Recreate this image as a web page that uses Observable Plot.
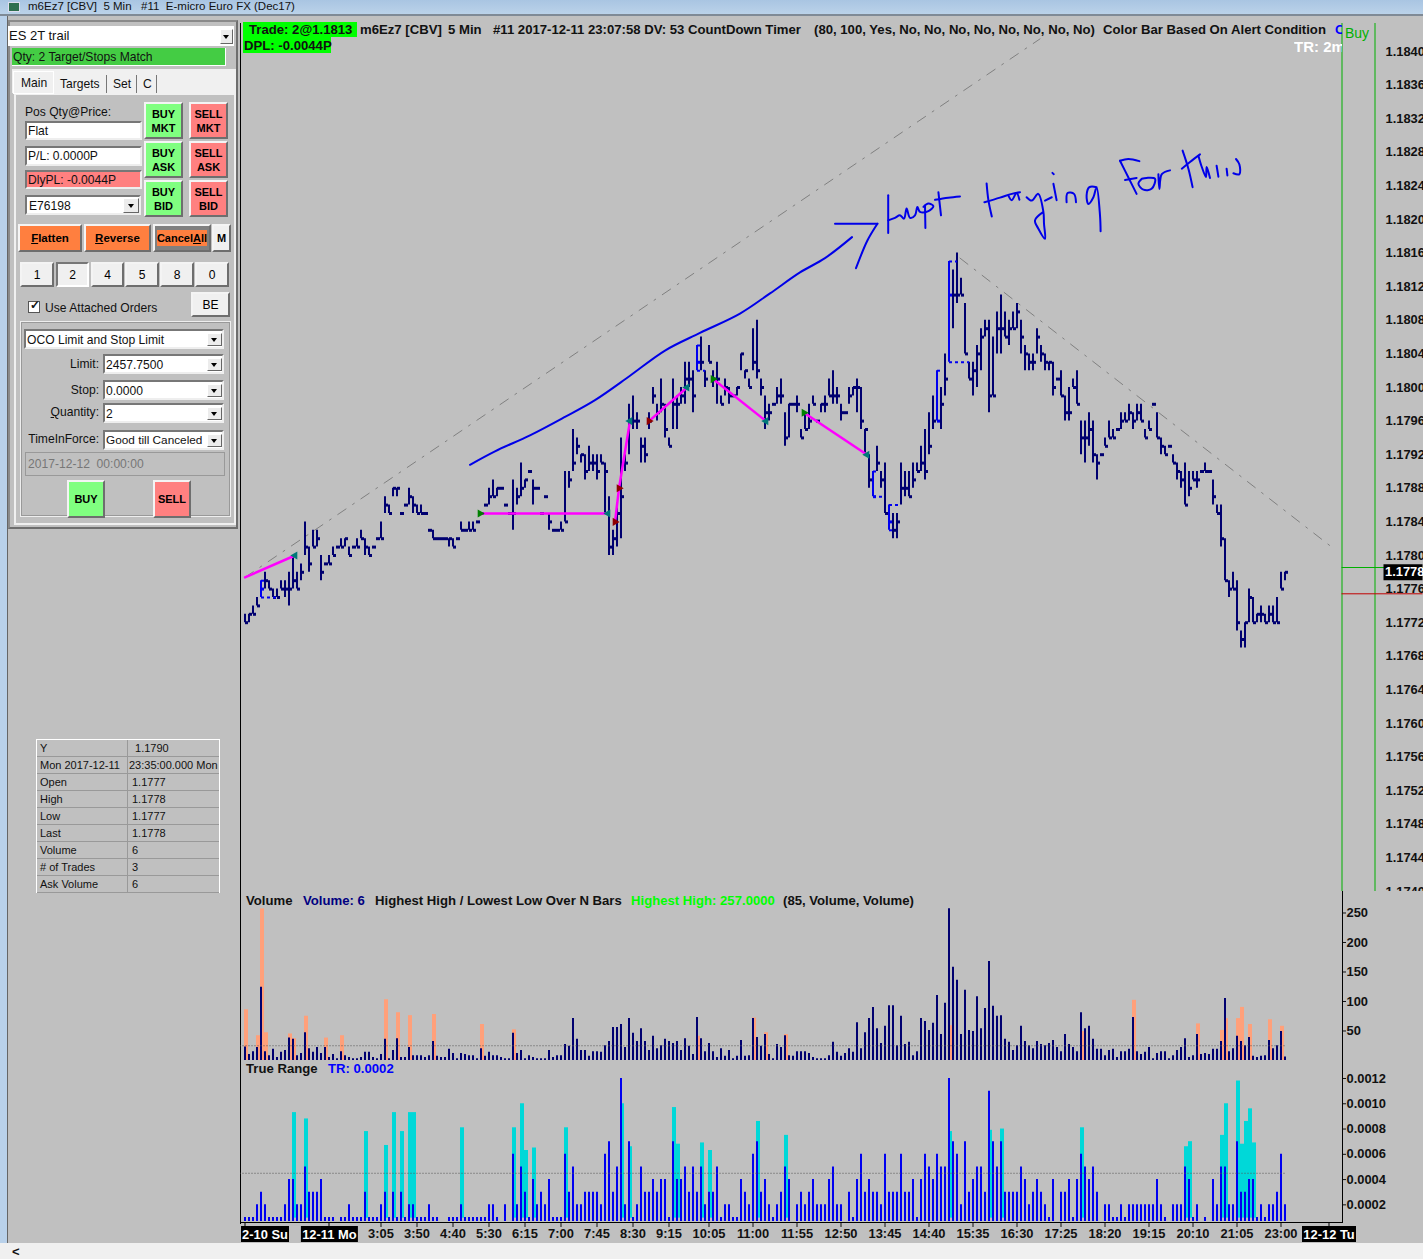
<!DOCTYPE html>
<html><head><meta charset="utf-8">
<script src="https://cdn.jsdelivr.net/npm/d3@7"></script>
<script src="https://cdn.jsdelivr.net/npm/@observablehq/plot@0.6"></script>
<style>
html,body{margin:0;padding:0;background:#c0c0c0;width:1423px;height:1259px;overflow:hidden;font-family:"Liberation Sans",Arial,sans-serif}
.abs{position:absolute;white-space:pre;box-sizing:border-box}
.panel{position:absolute;left:240px;line-height:0}
.hd{position:absolute;white-space:pre;font:bold 13.15px "Liberation Sans",Arial,sans-serif;color:#111;line-height:15px}
.ui{font:12.1px "Liberation Sans",Arial,sans-serif;color:#111;line-height:1}
.raised{border:2px solid;border-color:#f4f4f4 #6e6e6e #6e6e6e #f4f4f4}
.sunk{border:2px solid;border-color:#777 #eee #eee #777;background:#fff}
.btn{display:flex;align-items:center;justify-content:center;text-align:center;font:bold 11px/14px "Liberation Sans",Arial,sans-serif;white-space:pre}
.arrow{position:absolute;background:#ececec;border:1px solid;border-color:#fff #666 #666 #fff;box-sizing:border-box}
.arrow::after{content:"";position:absolute;left:50%;top:50%;margin:-1.5px 0 0 -3.5px;border:3.5px solid transparent;border-top:4px solid #000;border-bottom:0}
</style></head><body>
<div id="root"></div>
<script>
// ---- price bars, pips above 1.0000 (1773 = 1.1773) ----
const highs=[1773,1773,1774,1775,1777,1778,1777,1776,1776,1777,
1777,1778,1780,1778,1779,1784,1781,1783,1783,1780,
1779,1780,1781,1781,1782,1782,1781,1781,1782,1783,
1782,1781,1781,1782,1784,1787,1786,1788,1788,1785,
1786,1788,1787,1786,1786,1785,1783,1783,1782,1782,
1782,1782,1782,1782,1784,1783,1784,1784,1784,1785,
1786,1788,1789,1788,1788,1786,1785,1789,1788,1791,
1789,1790,1789,1788,1785,1787,1785,1783,1783,1784,
1790,1790,1795,1794,1792,1792,1793,1792,1792,1792,
1791,1787,1783,1786,1794,1792,1798,1799,1797,1794,
1794,1797,1800,1798,1801,1798,1794,1801,1799,1800,
1803,1803,1802,1805,1806,1802,1805,1802,1803,1799,
1801,1800,1799,1800,1804,1802,1801,1807,1808,1801,
1799,1798,1798,1800,1801,1797,1798,1798,1799,1795,
1797,1798,1799,1796,1798,1799,1801,1802,1800,1798,
1797,1800,1800,1801,1800,1795,1792,1790,1793,1790,
1791,1786,1785,1785,1791,1790,1790,1791,1791,1793,
1795,1797,1799,1802,1800,1804,1815,1814,1816,1813,
1810,1803,1803,1805,1807,1808,1808,1806,1809,1811,
1809,1808,1809,1810,1808,1805,1804,1804,1807,1805,
1804,1803,1803,1801,1802,1799,1800,1801,1802,1796,
1796,1797,1796,1792,1792,1794,1796,1795,1795,1797,
1797,1798,1797,1798,1798,1795,1796,1798,1797,1794,
1793,1793,1792,1791,1790,1791,1790,1790,1790,1790,
1791,1790,1789,1786,1786,1782,1777,1778,1777,1771,
1772,1776,1775,1773,1774,1773,1774,1774,1775,1778,1778];
const lows=[1772,1772,1773,1774,1775,1776,1776,1775,1775,1776,
1775,1774,1776,1776,1777,1780,1778,1781,1781,1777,
1779,1779,1780,1781,1781,1781,1780,1781,1781,1782,
1780,1780,1781,1782,1782,1785,1785,1787,1787,1785,
1786,1786,1785,1785,1785,1785,1783,1782,1782,1782,
1782,1781,1781,1782,1783,1783,1783,1783,1784,1785,
1786,1786,1787,1787,1788,1786,1785,1783,1786,1787,
1788,1790,1786,1788,1785,1787,1783,1783,1783,1783,
1784,1788,1790,1792,1791,1789,1790,1790,1789,1791,
1785,1780,1780,1781,1782,1790,1792,1795,1795,1791,
1791,1795,1798,1796,1797,1794,1793,1795,1795,1798,
1798,1800,1797,1802,1802,1800,1803,1800,1798,1798,
1799,1798,1799,1799,1802,1801,1800,1802,1801,1799,
1795,1796,1798,1798,1798,1793,1794,1798,1797,1794,
1795,1795,1798,1796,1797,1797,1799,1798,1798,1796,
1797,1798,1799,1797,1795,1792,1788,1787,1790,1788,
1785,1783,1782,1782,1786,1787,1787,1788,1790,1790,
1789,1792,1795,1796,1795,1799,1803,1807,1810,1811,
1804,1801,1799,1800,1802,1806,1797,1799,1804,1804,
1806,1805,1807,1807,1804,1802,1802,1802,1804,1803,
1802,1802,1799,1801,1799,1796,1796,1800,1798,1792,
1791,1793,1791,1789,1792,1793,1794,1794,1795,1795,
1796,1796,1795,1796,1796,1794,1795,1798,1794,1792,
1792,1793,1791,1789,1788,1786,1787,1789,1788,1790,
1790,1790,1786,1785,1781,1777,1775,1776,1771,1769,
1769,1772,1772,1772,1772,1772,1772,1772,1772,1776,1777];
const closes=[1772,1773,1773,1774,1776,1777,1776,1775,1775,1776,
1776,1776,1777,1776,1778,1781,1779,1781,1782,1778,
1779,1779,1780,1781,1781,1782,1780,1781,1781,1782,
1781,1780,1781,1782,1782,1786,1785,1788,1788,1785,
1786,1787,1786,1785,1785,1785,1783,1782,1782,1782,
1782,1782,1781,1782,1783,1783,1783,1783,1784,1785,
1786,1787,1787,1788,1788,1786,1785,1785,1787,1788,
1789,1790,1788,1788,1785,1787,1784,1783,1783,1783,
1784,1789,1791,1793,1792,1790,1791,1791,1790,1791,
1790,1781,1782,1785,1787,1791,1796,1796,1796,1793,
1792,1796,1799,1797,1798,1795,1793,1798,1798,1799,
1801,1801,1799,1803,1803,1801,1803,1801,1801,1798,
1800,1799,1799,1800,1804,1802,1800,1803,1802,1800,
1797,1797,1798,1799,1799,1794,1798,1798,1798,1794,
1795,1796,1798,1796,1798,1798,1799,1799,1799,1797,
1797,1799,1800,1800,1796,1795,1789,1787,1791,1789,
1785,1784,1783,1784,1788,1788,1787,1789,1790,1791,
1790,1793,1796,1796,1798,1801,1811,1811,1811,1811,
1804,1801,1802,1804,1806,1807,1799,1799,1807,1807,
1806,1807,1807,1809,1806,1804,1803,1803,1806,1804,
1803,1803,1800,1801,1799,1797,1797,1800,1798,1794,
1794,1795,1792,1791,1792,1793,1794,1794,1795,1796,
1796,1797,1796,1797,1796,1794,1795,1798,1794,1793,
1792,1793,1791,1790,1789,1786,1788,1789,1789,1790,
1790,1790,1787,1785,1782,1777,1776,1776,1772,1770,
1772,1775,1772,1773,1773,1772,1773,1772,1772,1776,1778];
const blueBars=[4,113,157,161,173,176];
// dotted swing connectors: from bar, to bar, price
const swingFrom=[4,4,113,113,157,157,161,161,173,173,176,176];
const swingTo=[5,8,114,115,158,160,164,162,174,174,178,181];
const swingPrice=[1777,1775,1805,1802,1790,1787,1786,1783,1802,1796,1815,1803];
// ---- volume ----
const volume=[23,10,15,22,124,15,8,19,5,14,17,38,36,8,12,47,20,14,22,12,22,5,10,3,15,8,5,3,3,5,14,14,5,3,10,36,3,17,37,5,5,22,8,8,8,5,8,32,7,5,5,19,12,3,12,10,8,8,3,20,7,14,8,8,5,3,3,46,12,17,3,8,5,3,3,3,17,5,8,8,27,24,71,36,17,17,7,15,15,14,25,32,56,56,61,22,71,46,32,
54,32,17,41,20,25,36,32,29,32,17,37,24,10,73,37,15,29,15,5,20,7,17,3,7,34,7,8,71,39,24,44,10,3,27,22,42,8,7,15,15,15,12,5,3,3,3,8,31,14,7,12,20,14,64,20,47,71,90,54,29,58,93,93,25,75,27,31,8,15,71,66,51,63,110,44,97,257,158,136,44,119,51,49,108,54,88,168,92,75,76,36,31,17,25,58,32,25,20,32,
27,25,29,34,22,15,44,27,22,15,81,54,58,36,19,19,8,17,19,5,15,15,19,73,15,10,14,22,3,12,15,15,3,8,17,22,37,5,8,44,10,12,10,19,19,32,105,15,20,41,32,25,39,7,5,7,8,34,20,25,49,6];
const salmonBars=[0,3,4,5,11,12,15,20,24,35,38,41,47,59,67,113,127,130,135,176,209,222,238,244,245,248,249,251,256,259];
const salmonValues=[86,42,257,47,45,37,75,38,42,103,81,76,78,61,52,41,72,47,44,59,49,102,62,51,71,71,90,61,69,58];
const volumeAverage=25;
// ---- true range, in 1/10000 ----
const trueRange=[1,1,1,2,3,2,1,1,1,1,2,4,4,2,2,5,3,3,3,4,1,1,1,0,1,1,2,1,1,1,3,1,1,1,2,3,1,3,1,3,1,2,2,1,1,1,2,1,1,0,0,1,1,1,2,1,1,1,1,1,1,2,2,1,0,2,0,6,2,5,3,1,4,2,3,2,4,1,1,1,6,3,5,2,2,3,3,3,3,2,6,7,3,5,12,2,7,1,2,
5,3,3,4,3,4,4,1,7,4,4,5,3,5,3,5,2,3,3,5,1,2,2,1,1,4,3,2,6,7,3,4,2,1,2,3,5,4,0,2,3,2,3,4,2,2,2,4,5,2,2,0,3,1,4,6,3,4,3,3,2,6,3,3,3,6,3,3,4,1,4,6,5,4,6,5,5,12,7,6,2,7,3,4,5,5,3,11,7,5,7,3,3,3,3,5,4,2,3,4,
3,2,1,4,0,3,3,4,1,4,6,5,4,5,3,0,2,2,1,1,2,1,2,2,2,2,2,2,2,4,2,1,0,2,2,2,5,4,1,2,0,1,0,4,2,5,5,2,2,7,3,3,4,4,1,2,1,2,2,3,6,2];
const cyanBars=[12,15,30,35,37,39,41,42,54,67,69,70,72,80,94,96,107,108,114,116,128,135,176,186,189,209,235,236,244,245,248,249,250,251,252];
const cyanValues=[9.3,8.8,7.8,6.7,9.3,7.8,9.3,9.3,8.1,8.1,10,6.3,6.5,8.1,10,6.6,9.7,6.8,6.9,6.3,8.6,7.5,7.8,7.9,8,8.1,6.6,7,7.5,10,11.8,6.8,8.6,9.6,6.9];
const trAverage=4.5;
// ---- axes ----
const priceTicks=[1740,1744,1748,1752,1756,1760,1764,1768,1772,1776,1780,1784,1788,1792,1796,1800,1804,1808,1812,1816,1820,1824,1828,1832,1836,1840];
const volumeTicks=[50,100,150,200,250];
const trTicks=[2,4,6,8,10,12];
const timeBars=[34,43,52,61,70,79,88,97,106,116,127,138,149,160,171,182,193,204,215,226,237,248,259];
const timeLabels=["3:05","3:50","4:40","5:30","6:15","7:00","7:45","8:30","9:15","10:05","11:00","11:55","12:50","13:45","14:40","15:35","16:30","17:25","18:20","19:15","20:10","21:05","23:00"];
const dateBars=[5,21.1,271];
const dateLabels=["2-10 Su","12-11 Mo","12-12 Tu"];
const dateBoxWidths=[48,57,54];
const dateTicks=[0,21,271];
// ---- drawn on the chart ----
const trendUp=[[0,1777.4],[198.75,1841.5]];
const trendDown=[[178.75,1815.4],[272.5,1780.7]];
const pinkLines=[
 [[0,1777.4],[12.5,1780]],
 [[58.75,1785],[90.75,1785]],
 [[92.5,1784],[93.5,1788],[96.25,1796]],
 [[101,1796],[110.5,1800]],
 [[117,1801],[130.25,1796]],
 [[139.75,1797],[155.5,1792]]];
const greenMarks=[[58.75,1785],[117,1801],[139.75,1797]];
const redMarks=[[92.5,1784],[93.5,1788],[101,1796]];
const tealMarks=[[90.75,1785],[130.25,1796],[155.5,1792],[12.5,1780],[96.25,1796],[110.5,1800]];
const ink=[
 [[56.25,1790.8],[62.5,1792.4],[71.25,1794.3],[80,1796.5],[87.5,1798.5],[96.25,1801.4],[105,1804.4],[113.75,1806.5],[123.75,1808.8],[131.25,1811.2],[138.75,1813.7],[145,1815.4],[151.75,1817.9]],
 [[147.5,1819.5],[158.1,1819.5]],
 [[158.1,1819.5],[155.6,1817.5],[152.75,1814.2]],
 [[160.8,1822.9],[160.8,1820.5],[160.8,1818.4]],
 [[160.8,1819.9],[162.5,1820.2],[163.75,1820.5],[164.75,1820.1],[165.4,1821.3],[166.25,1820.2],[167.5,1820.5],[168.1,1821.5],[168.75,1820.9],[170.85,1821],[172.1,1821.6],[170.85,1821.9],[169.6,1821.5]],
 [[170,1821.65],[170.1,1819]],
 [[173.35,1823.25],[174,1820.5]],
 [[172.5,1822.35],[175.8,1822.6],[178.75,1822.75]],
 [[185.4,1824.3],[185.85,1822.3],[186.7,1820.35]],
 [[184.85,1822.05],[188.75,1822.6],[191.7,1823.05],[193.75,1823.25]],
 [[190.85,1822.85],[191.7,1822.3],[192.9,1823.15],[193.6,1822.35]],
 [[195.4,1822.65],[196.7,1822.25],[198.3,1823.05],[199.6,1820.9],[199.75,1819.5],[200,1817.7],[198.35,1818.9],[197.5,1819.9],[199.6,1820.9]],
 [[200,1822.25],[201.7,1822.65]],
 [[201.85,1825.55],[202.2,1825.4]],
 [[202.1,1824.25],[202.9,1822.3]],
 [[205.4,1822.05],[205.65,1823.15],[207.25,1823.05],[207.75,1822.05]],
 [[212.9,1823.85],[211.1,1823.85],[210.4,1822.85],[210.85,1821.85],[212.1,1822.65],[212.9,1823.85],[213.75,1820.5],[213.9,1818.6]],
 [[218.75,1827],[220.85,1827.2],[223.6,1826.95]],
 [[218.75,1827],[220.85,1825],[222.9,1823.05]],
 [[220,1824.7],[222.9,1824.95]],
 [[224.2,1824.85],[223.35,1824.25],[224.6,1823.55],[226.65,1823.65],[227.5,1824.85],[225.4,1824.95],[224.2,1824.85]],
 [[228.35,1825.4],[228.6,1823.65],[229.2,1825.4],[231.25,1825.85]],
 [[234.4,1828.2],[235.85,1826.05],[236.9,1823.85]],
 [[234.2,1826.05],[236.25,1826.85],[238.75,1827.75]],
 [[238.35,1827.6],[239.2,1826.25],[240.25,1825.05],[240.4,1826.25],[241.25,1824.95]],
 [[242.9,1826.4],[243.35,1825.1]],
 [[245.4,1826.05],[245.6,1825.25]],
 [[247.75,1827.2],[248.6,1826.55],[248.6,1825.4],[247.1,1825.5]]];
const lastPrice=1778, orderGreen=1778.57, orderRed=1775.44;

const NAVY="#000070",BLUE="#0000f0",CYAN="#00d8d8",SALMON="#ffa07a",PINK="#ff00ff",GREEN="#00b000";
const idx=d3.range(highs.length);
const isBlue=new Set(blueBars);
const bars=idx.map(i=>({i,high:highs[i],low:lows[i],close:closes[i]}));
const points=a=>a.map(([i,p])=>({i,p}));
const strokes=(a)=>a.flatMap((s,k)=>s.map(([i,p])=>({k,i,p})));
const base={width:1183,marginLeft:0,marginRight:81,marginTop:0,marginBottom:0,
 x:{domain:[-1.25,294.5],range:[-0.5,1182.5],axis:null},
 style:{background:"transparent",color:"#111",fontFamily:"'Liberation Sans',Arial,sans-serif",fontSize:"12.9px",fontWeight:"bold",overflow:"hidden"}};
const root=document.getElementById("root");
function place(svg,top){const d=document.createElement("div");d.className="panel";d.style.top=top+"px";d.appendChild(svg);root.appendChild(d);}
const fmtPrice=p=>(1+p/10000).toFixed(4);
const fmtRange=p=>(p/10000).toFixed(4);

// main price panel
place(Plot.plot({...base,height:868,y:{domain:[1740,1843.333],range:[868,0]},
 marks:[
  Plot.frame({anchor:"left",stroke:"#000"}),
  Plot.ruleX([274.25,282.5],{stroke:GREEN}),
  Plot.ruleY([orderGreen],{x1:274.25,x2:294.5,stroke:GREEN}),
  Plot.ruleY([orderRed],{x1:274.25,x2:294.5,stroke:"#c00000"}),
  Plot.line(trendUp,{x:"0",y:"1",stroke:"#808080",strokeWidth:1,strokeDasharray:"10 8 2 8"}),
  Plot.line(trendDown,{x:"0",y:"1",stroke:"#808080",strokeWidth:1,strokeDasharray:"10 8 2 8"}),
  Plot.ruleX(bars.filter(d=>d.high>d.low),{x:"i",y1:"low",y2:"high",stroke:d=>isBlue.has(d.i)?"b":"n",strokeWidth:2}),
  Plot.ruleY(bars,{x1:d=>d.high>d.low?d.i:d.i-0.25,x2:d=>d.i+0.75,dx:0.5,y:"close",stroke:d=>isBlue.has(d.i)?"b":"n",strokeWidth:3}),
  Plot.ruleY(swingPrice,{x1:(d,k)=>swingFrom[k],x2:(d,k)=>swingTo[k],dx:0.5,y:d=>d,stroke:BLUE,strokeWidth:2,strokeDasharray:"3 3"}),
  Plot.line(strokes(pinkLines),{x:"i",y:"p",z:"k",stroke:PINK,strokeWidth:2.5}),
  Plot.dot(points(greenMarks),{x:"i",y:"p",symbol:"triangle",rotate:90,r:3,fill:"#008000"}),
  Plot.dot(points(redMarks),{x:"i",y:"p",symbol:"triangle",rotate:90,r:3,fill:"#900000"}),
  Plot.dot(points(tealMarks),{x:"i",y:"p",symbol:"triangle",rotate:-90,r:3,fill:"#007878"}),
  Plot.line(strokes(ink),{x:"i",y:"p",z:"k",stroke:"#0000e8",strokeWidth:2,curve:"catmull-rom"}),
  Plot.axisY({anchor:"right",ticks:priceTicks,tickSize:0,tickPadding:43,tickFormat:fmtPrice,label:null}),
  Plot.ruleY([lastPrice],{x1:284.75,x2:294.5,stroke:"#000",strokeWidth:16}),
  Plot.text([lastPrice],{x:285,y:d=>d,text:fmtPrice,textAnchor:"start",fill:"#fff"})
 ],color:{domain:["n","b"],range:[NAVY,BLUE]}}),23);

// volume panel
place(Plot.plot({...base,height:170,y:{domain:[0,286.44],range:[169,0]},
 marks:[
  Plot.frame({anchor:"left",stroke:"#000"}),
  Plot.frame({anchor:"right",stroke:"#000"}),
  Plot.ruleX(salmonBars,{x:d=>d,y1:0,y2:(d,k)=>salmonValues[k],dx:1,stroke:SALMON,strokeWidth:4}),
  Plot.ruleX(volume,{x:(d,i)=>i,y1:0,y2:d=>d,stroke:NAVY,strokeWidth:2}),
  Plot.ruleY([volumeAverage],{x1:-1.25,x2:260,stroke:"#555",strokeWidth:1,strokeDasharray:"1 2"}),
  Plot.axisY({anchor:"right",ticks:volumeTicks,tickSize:3,tickPadding:1,label:null,tickFormat:d=>d})
 ]}),891);

// true range panel
place(Plot.plot({...base,height:161,y:{domain:[0.683,13.345],range:[160,0]},
 marks:[
  Plot.frame({anchor:"left",stroke:"#000"}),
  Plot.frame({anchor:"right",stroke:"#000"}),
  Plot.ruleX(cyanBars,{x:d=>d,y1:0.95,y2:(d,k)=>cyanValues[k],dx:1,stroke:CYAN,strokeWidth:4}),
  Plot.ruleX(idx.filter(i=>trueRange[i]>0),{x:d=>d,y1:0.683,y2:d=>trueRange[d],stroke:BLUE,strokeWidth:2}),
  Plot.ruleY([trAverage],{x1:-1.25,x2:260,stroke:"#555",strokeWidth:1,strokeDasharray:"1 2"}),
  Plot.axisY({anchor:"right",ticks:trTicks,tickSize:3,tickPadding:1,label:null,tickFormat:fmtRange})
 ]}),1061);

// time axis panel
const labelOf=new Map(timeBars.map((b,k)=>[b,timeLabels[k]]));
place(Plot.plot({...base,height:21,marginBottom:20,y:{domain:[0,1],range:[20,4],axis:null},
 marks:[
  Plot.frame({anchor:"top",stroke:"#000"}),
  Plot.frame({anchor:"left",stroke:"#000"}),
  Plot.axisX({anchor:"bottom",ticks:timeBars,tickSize:4,tickPadding:1,label:null,tickFormat:d=>labelOf.get(d)}),
  Plot.ruleX(dateTicks,{x:d=>d,y1:1,y2:1.25,stroke:"#000"}),
  Plot.ruleX(dateBars,{x:d=>d,y1:0,y2:1,stroke:"#000",strokeWidth:(d,k)=>dateBoxWidths[k]}),
  Plot.text(dateBars,{x:d=>d,y:0.5,text:(d,k)=>dateLabels[k],fill:"#fff"})
 ]}),1222);

// ---- window chrome and texts as plain HTML ----
function el(x,y,w,h,txt,cls,css){const d=document.createElement("div");d.className="abs "+(cls||"");
 d.style.left=x+"px";d.style.top=y+"px";if(w!=null)d.style.width=w+"px";if(h!=null)d.style.height=h+"px";
 if(txt!=null)d.textContent=txt;if(css)d.style.cssText+=";"+css;document.body.appendChild(d);return d;}
function hd(x,y,txt,color,extra){return el(x,y-7,null,15,txt,"hd",(color?"color:"+color+";":"")+(extra||""));}
function arrow(x,y,w,h){return el(x,y,w,h,null,"arrow");}

// title bar, outer frame
el(0,0,1423,15,null,"","background:linear-gradient(#a9c5e2,#bcd3ea)");
el(0,14,1423,2,null,"","background:#7f8a96");
el(8,2,12,10,null,"","background:#2f6f4f;border:1px solid #dde");
el(28,1,500,14,"m6Ez7 [CBV]  5 Min   #11  E-micro Euro FX (Dec17)","ui","font-size:11.5px");
el(0,16,7,1227,null,"","background:#b9d1ea");
el(7,16,1,1227,null,"","background:#666");
el(0,1243,1423,16,null,"","background:#f0f0f0");
el(12,1245,12,12,"<","ui","font-size:13px;font-weight:bold");

// chart headers
el(243,22,114,15,null,"","background:#00ff00");
el(243,37,88,16,null,"","background:#00ff00");
hd(249,29,"Trade: 2@1.1813");
hd(244,45,"DPL: -0.0044P");
hd(360,29,"m6Ez7 [CBV]");hd(448,29,"5 Min");hd(493,29,"#11 2017-12-11 23:07:58 DV: 53");hd(688,29,"CountDown Timer");
hd(814,29,"(80, 100, Yes, No, No, No, No, No, No, No, No)");hd(1103,29,"Color Bar Based On Alert Condition");
hd(1335,29,"C","#0000ff","width:7px;overflow:hidden");
hd(1294,46,"TR: 2m","#ffffff","width:48px;overflow:hidden;font-size:15px");
hd(1345,33,"Buy","#00b000","font-weight:normal;font-size:14px");
hd(246,900,"Volume");hd(303,900,"Volume: 6","#000080");hd(375,900,"Highest High / Lowest Low Over N Bars");
hd(631,900,"Highest High: 257.0000","#00ff00");hd(783,900,"(85, Volume, Volume)");
hd(246,1068,"True Range");hd(328,1068,"TR: 0.0002","#0000ff");

// order panel
el(8,20,230,509,null,"","border:2px solid;border-color:#8a8a8a #6e6e6e #6e6e6e #8a8a8a;background:#c0c0c0");
el(8,26,226,20,"ES 2T trail","ui","background:#fff;padding:3px 1px;font-size:13px");arrow(220,29,13,15);
el(12,48,214,18,"Qty: 2 Target/Stops Match","ui","background:#44cc44;padding:3px 1px;border-right:1px solid #fff;border-bottom:1px solid #fff");
el(12,69,224,24,null,"","background:#f0f0f0");
el(13,71,41,23,"Main","ui","background:#f0f0f0;border:1px solid #fff;padding:5px 7px;z-index:2");
el(55,75,52,18,"Targets","ui","background:#f0f0f0;border-right:1px solid #777;padding:3px 5px");
el(108,75,29,18,"Set","ui","background:#f0f0f0;border-right:1px solid #777;padding:3px 5px");
el(138,75,19,18,"C","ui","background:#f0f0f0;border-right:1px solid #777;padding:3px 5px");
el(14,93,222,432,null,"","border:2px solid;border-color:#f0f0f0;background:#c0c0c0");
el(25,106,110,14,"Pos Qty@Price:","ui");
el(25,121,117,19,"Flat","ui sunk","padding:2px 1px");
el(25,146,117,20,"P/L: 0.0000P","ui sunk","padding:2px 1px");
el(25,170,117,19,"DlyPL: -0.0044P","ui sunk","padding:2px 1px;background:#ff8080");
el(25,195,116,20,"E76198","ui sunk","padding:3px 2px");arrow(123,198,16,15);
[["BUY\nMKT",144,102,"#80ff80"],["SELL\nMKT",189,102,"#ff8080"],["BUY\nASK",144,141,"#80ff80"],["SELL\nASK",189,141,"#ff8080"],["BUY\nBID",144,180,"#80ff80"],["SELL\nBID",189,180,"#ff8080"]]
 .forEach(([t,x,y,c])=>el(x,y,39,37,t,"btn raised","background:"+c));
el(18,224,64,28,null,"btn raised","background:#ff7f3f;font-size:11.5px").innerHTML="<u>F</u>latten";
el(84,224,67,28,null,"btn raised","background:#ff7f3f;font-size:11.5px").innerHTML="<u>R</u>everse";
el(153,224,58,28,null,"btn raised","background:#808080").innerHTML='<span style="background:#ff7f3f;padding:1px 0">Cancel<u>A</u>ll</span>';
el(212,224,19,28,"M","btn raised","background:#f0f0f0");
[["1",20,34],["2",56,33],["4",91,33],["5",125,34],["8",160,34],["0",195,34]].forEach(([t,x,w])=>el(x,262,w,25,t,"btn raised","background:#f0f0f0;font:12.1px 'Liberation Sans'"+(t=="2"?";border-color:#777 #fff #fff #777":"")));
el(28,301,12,12,null,"","background:#fff;border:1px solid #555");
el(28,299,14,14,"✓","ui","font-size:12px;font-weight:bold;text-align:center");
el(45,302,140,14,"Use Attached Orders","ui");
el(191,292,39,25,"BE","btn raised","background:#f0f0f0;font:12.1px 'Liberation Sans'");
el(20,321,211,196,null,"","border:1px solid #eee;outline:1px solid #999;outline-offset:-2px");
el(24,329,200,20,"OCO Limit and Stop Limit","ui sunk","padding:3px 1px");arrow(207,333,15,13);
el(20,358,79,14,"Limit:","ui","text-align:right");
el(103,354,121,20,"2457.7500","ui sunk","padding:3px 1px");arrow(207,358,15,13);
el(20,384,79,14,"Stop:","ui","text-align:right");
el(103,380,121,20,"0.0000","ui sunk","padding:3px 1px");arrow(207,384,15,13);
el(20,406,79,14,null,"ui","text-align:right").innerHTML="<u>Q</u>uantity:";
el(103,403,121,20,"2","ui sunk","padding:3px 1px");arrow(207,407,15,13);
el(20,433,79,14,"TimeInForce:","ui","text-align:right");
el(103,430,121,20,"Good till Canceled","ui sunk","padding:3px 1px;font-size:11.8px");arrow(207,434,15,13);
el(25,452,200,24,"2017-12-12  00:00:00","ui","border:1px solid #999;color:#777;padding:5px 2px");
el(67,480,38,38,"BUY","btn raised","background:#80ff80");
el(153,480,38,38,"SELL","btn raised","background:#ff8080");

// cursor data table
const rowsA=["Y","Mon 2017-12-11","Open","High","Low","Last","Volume","# of Trades","Ask Volume"];
const rowsB=[" 1.1790","23:35:00.000 Mon","1.1777","1.1778","1.1777","1.1778","6","3","6"];
el(36,739,184,154,null,"","border:1px solid #fff;background:#c0c0c0;overflow:hidden");
rowsA.forEach((t,k)=>{
 const y=740+k*17;
 el(37,y,91,17,t,"ui","font-size:11px;padding:3px 3px;border-bottom:1px solid #999;border-right:1px solid #999");
 el(128,y,91,17,rowsB[k],"ui","font-size:11px;padding:3px 4px;border-bottom:1px solid #999;overflow:hidden;"+(k==1?"padding-left:1px":""));
});
</script>
</body></html>
